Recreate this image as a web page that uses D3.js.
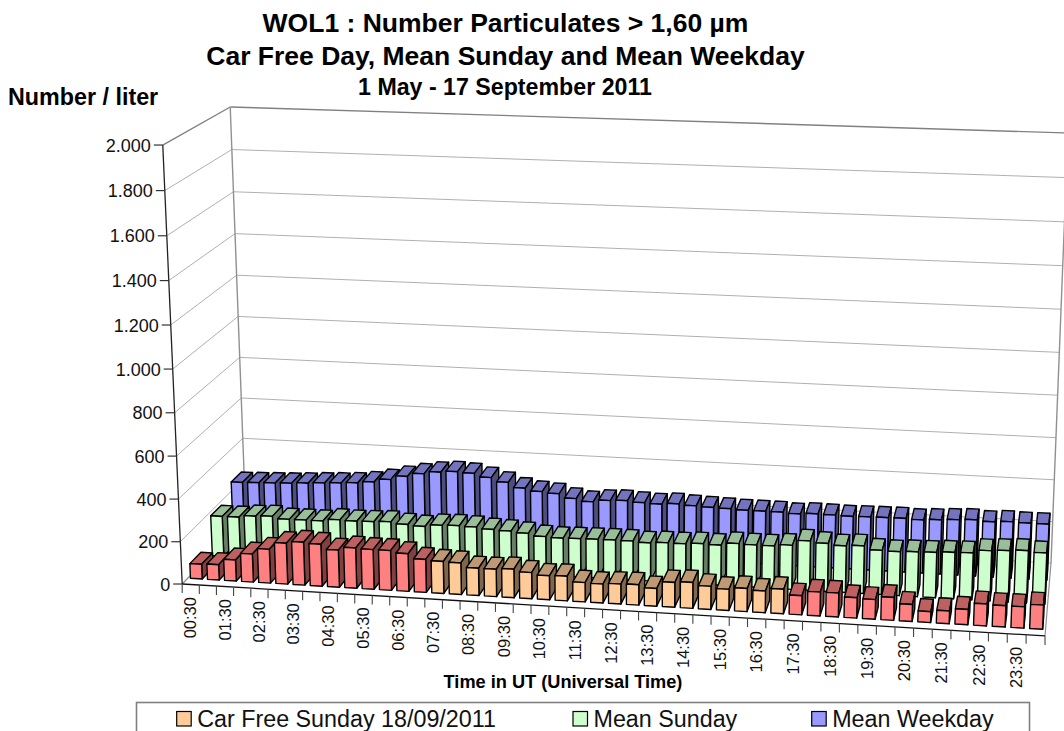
<!DOCTYPE html>
<html><head><meta charset="utf-8">
<script src="https://cdn.jsdelivr.net/npm/d3@7"></script>
<style>html,body{margin:0;padding:0;background:#fff;overflow:hidden}svg{display:block;font-family:"Liberation Sans",Arial,sans-serif}</style>
</head><body><svg id="c" width="1064" height="731"></svg>
<script>
const categories = ["00:30","01:00","01:30","02:00","02:30","03:00","03:30","04:00","04:30","05:00","05:30","06:00","06:30","07:00","07:30","08:00","08:30","09:00","09:30","10:00","10:30","11:00","11:30","12:00","12:30","13:00","13:30","14:00","14:30","15:00","15:30","16:00","16:30","17:00","17:30","18:00","18:30","19:00","19:30","20:00","20:30","21:00","21:30","22:00","22:30","23:00","23:30","24:00"];
const carFree = [70,73,100,133,160,193,203,198,175,190,187,187,177,155,150,148,128,128,133,122,112,115,90,88,93,95,82,115,120,107,98,107,100,113,88,110,110,94,90,105,78,50,58,70,100,97,97,110];
const meanSunday = [193,194,203,207,197,198,198,208,206,208,212,204,199,209,212,210,203,200,194,183,180,182,184,185,185,181,186,186,191,189,201,199,199,207,232,225,218,223,207,205,209,211,216,218,233,238,243,237];
const meanWeekday = [257,260,263,266,271,276,280,285,294,310,330,347,359,366,362,346,327,303,291,285,266,255,265,269,264,261,267,262,259,257,254,254,254,250,255,254,252,254,255,256,253,258,263,267,262,267,265,265];
const carFreeStart = "07:30", carFreeEnd = "17:00";
const seriesNames = ["Car Free Sunday 18/09/2011","Mean Sunday","Mean Weekday"];
const seriesValues = [carFree, meanSunday, meanWeekday];
const fills = {orange:"#FFCC99", red:"#FF8080", green:"#CCFFCC", blue:"#9999FF"};

// perspective frame fitted to the box corners (x01, y01, z01) -> screen
const corners = [
 [0,0,0,182,584],[0,1,0,163,145],[0,0,1,246,518],[0,1,1,230,107],
 [1,0,1,1051,563],[1,1,1,1068,133],[1,0,0,1045,636]
];
function solve(A,b){const n=b.length,M=A.map((r,i)=>[...r,b[i]]);
 for(let i=0;i<n;i++){let p=i;for(let r=i+1;r<n;r++)if(Math.abs(M[r][i])>Math.abs(M[p][i]))p=r;[M[i],M[p]]=[M[p],M[i]];
  for(let r=0;r<n;r++)if(r!==i){const f=M[r][i]/M[i][i];for(let c=i;c<=n;c++)M[r][c]-=f*M[i][c];}}
 return M.map((r,i)=>r[n]/r[i]);}
const rows=[],rhs=[];
corners.forEach(([x,y,z,u,v])=>{
 rows.push([x,y,z,1,0,0,0,0,-u*x,-u*y,-u*z]);rhs.push(u);
 rows.push([0,0,0,0,x,y,z,1,-v*x,-v*y,-v*z]);rhs.push(v);});
const AtA=d3.range(11).map(i=>d3.range(11).map(j=>d3.sum(rows,r=>r[i]*r[j])));
const Atb=d3.range(11).map(i=>d3.sum(rows,(r,k)=>r[i]*rhs[k]));
const P=solve(AtA,Atb);
function proj(x,y,z){const w=P[8]*x+P[9]*y+P[10]*z+1;return [(P[0]*x+P[1]*y+P[2]*z+P[3])/w,(P[4]*x+P[5]*y+P[6]*z+P[7])/w];}

const xBand=d3.scaleBand().domain(categories).range([0,1]).paddingInner(0.31).paddingOuter(0.155);
const yScale=d3.scaleLinear().domain([0,2000]).range([0,1]);
const zBand=d3.scaleBand().domain(seriesNames).range([0,1]).paddingInner(0.5).paddingOuter(0.25);
const fmt=d3.formatLocale({decimal:",",thousands:".",grouping:[3],currency:["","" ]}).format(",d");
const svg=d3.select("#c");
const line=d3.line();
const ticks=yScale.ticks(10);

// walls & grid
const wall=svg.append("g").attr("fill","none");
ticks.forEach(t=>{const y=yScale(t),a=proj(0,y,0),b=proj(0,y,1),c=proj(1,y,1),top=t===2000;
 wall.append("path").attr("d",line([a,b])).attr("stroke",top?"#808080":"#b0b0b0").attr("stroke-width",top?1.4:1);
 wall.append("path").attr("d",line([b,c])).attr("stroke",top?"#808080":"#b0b0b0").attr("stroke-width",top?1.4:1);});
wall.append("path").attr("d",line([proj(0,1,1),proj(0,0,1)])).attr("stroke","#909090").attr("stroke-width",1.4);
wall.append("path").attr("d",line([proj(1,1,1),proj(1,0,1)])).attr("stroke","#909090").attr("stroke-width",1.4);
wall.append("path").attr("d",line([proj(1,0,1),proj(1,0,0)])).attr("stroke","#909090").attr("stroke-width",1.2);
wall.append("path").attr("d",line([proj(0,0,1),proj(0,0,0)])).attr("stroke","#909090").attr("stroke-width",1.2);

// bars
function bar(g,cat,name,val,fill){
 const x0=xBand(cat),x1=x0+xBand.bandwidth(),z0=zBand(name),z1=z0+zBand.bandwidth(),y1=yScale(val);
 const c=d3.color(fill);
 const shade=k=>d3.rgb(c.r*k,c.g*k,c.b*k).formatHex();
 const face=(pts,f)=>g.append("path").attr("d",line(pts)+"Z").attr("fill",f).attr("stroke","#000").attr("stroke-width",1.4).attr("stroke-linejoin","round");
 face([proj(x0,y1,z0),proj(x0,y1,z1),proj(x1,y1,z1),proj(x1,y1,z0)],shade(.75));
 face([proj(x1,0,z0),proj(x1,0,z1),proj(x1,y1,z1),proj(x1,y1,z0)],shade(.5));
 face([proj(x0,0,z0),proj(x1,0,z0),proj(x1,y1,z0),proj(x0,y1,z0)],fill);
}
const barG=svg.append("g");
const iS=categories.indexOf(carFreeStart),iE=categories.indexOf(carFreeEnd);
[2,1,0].forEach(s=>categories.forEach((cat,i)=>{
 const fill= s===2?fills.blue: s===1?fills.green: (i>=iS&&i<=iE?fills.orange:fills.red);
 bar(barG,cat,seriesNames[s],seriesValues[s][i],fill);
}));

// axes
const axis=svg.append("g").attr("fill","none");
axis.append("path").attr("d",line([proj(0,1,0),proj(0,0,0)])).attr("stroke","#222").attr("stroke-width",1.3);
axis.append("path").attr("d",line([proj(0,0,0),proj(1,0,0)])).attr("stroke","#111").attr("stroke-width",1.3);
const yt=svg.append("g");
ticks.forEach(t=>{const [px,py]=proj(0,yScale(t),0);
 yt.append("line").attr("x1",px-9).attr("x2",px).attr("y1",py).attr("y2",py).attr("stroke","#333").attr("stroke-width",1.2);
 yt.append("text").attr("x",px-12).attr("y",py+6.5).attr("text-anchor","end").attr("font-size",18).attr("fill","#111").text(fmt(t));
});
const step=xBand.step();
const xt=svg.append("g");
categories.concat(["end"]).forEach((c,i)=>{const [px,py]=proj(i*step,0,0);
 xt.append("line").attr("x1",px).attr("x2",px).attr("y1",py).attr("y2",py+9).attr("stroke","#444").attr("stroke-width",1.1);
 if(i%2===0&&c!=="end"){const [mx,my]=proj((i+.5)*step,0,0);
  xt.append("text").attr("transform",`translate(${mx+5.5},${my+12.5}) rotate(-90)`).attr("text-anchor","end").attr("font-size",16.5).attr("fill","#111").text(c);}
});

// titles
const T=(s,x,y,size,anchor="middle")=>svg.append("text").attr("x",x).attr("y",y).attr("text-anchor",anchor).attr("font-size",size).attr("font-weight","bold").attr("fill","#000").text(s);
T("WOL1 : Number Particulates > 1,60 µm",505.5,32,26.5);
T("Car Free Day, Mean Sunday and Mean Weekday",505.5,65,26.5);
T("1 May - 17 September 2011",505,95,23.2);
T("Number / liter",8,105,23.3,"start");
T("Time in UT (Universal Time)",563,688,18.2);

// legend
const leg=svg.append("g");
leg.append("rect").attr("x",136.5).attr("y",702.5).attr("width",893).attr("height",40).attr("fill","#fff").attr("stroke","#808080").attr("stroke-width",1.6);
const legX=[176.7,573,811.7],legFill=[fills.orange,fills.green,fills.blue];
seriesNames.forEach((n,i)=>{
 leg.append("rect").attr("x",legX[i]).attr("y",711.5).attr("width",14.5).attr("height",14.5).attr("fill",legFill[i]).attr("stroke","#000").attr("stroke-width",1.2);
 leg.append("text").attr("x",legX[i]+20.5).attr("y",727).attr("font-size",23.3).attr("fill","#111").text(n);
});
</script></body></html>
